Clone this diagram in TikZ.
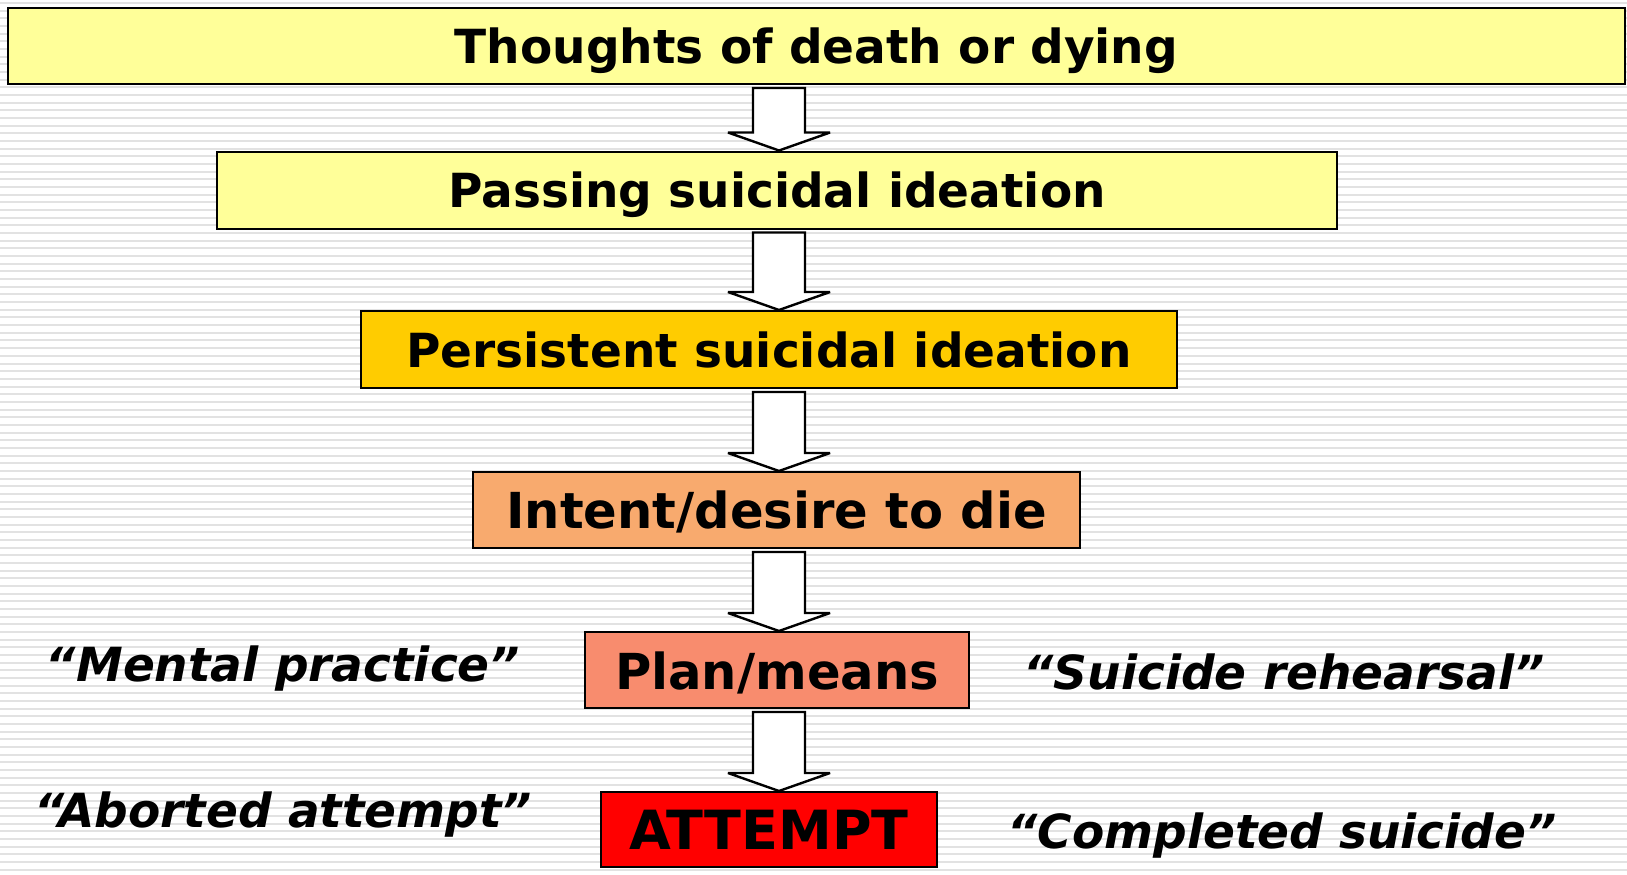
\documentclass[tikz,border=0pt]{standalone}
\usepackage{fontspec}
\setmainfont{DejaVu Sans}
\usetikzlibrary{calc}
\definecolor{paleyellow}{HTML}{FFFF99}
\definecolor{gold}{HTML}{FFCC00}
\definecolor{sandy}{HTML}{F8AA6E}
\definecolor{salmonbox}{HTML}{F88C6E}
\definecolor{redbox}{HTML}{FF0000}
\definecolor{stripe}{HTML}{E2E2E2}
\tikzset{
  stage/.style={draw=black, line width=1pt, inner sep=0pt, font=\bfseries\fontsize{23.5}{28}\selectfont, text height=22.5pt, text depth=5pt},
  boxsize/.style 2 args={minimum width={#1*0.5pt}, minimum height={#2*0.5pt}},
  quote/.style={font=\bfseries\itshape\fontsize{23.5}{28}\selectfont, anchor=base},
  arrowbox/.style={draw=black, fill=white, line width=1.2pt, line join=miter, miter limit=4},
}
\begin{document}
\begin{tikzpicture}[x=0.5pt,y=-0.5pt]
\useasboundingbox (0,0) rectangle (1627,874);
\begin{scope}
\clip (0,0) rectangle (1627,874);
\foreach \i in {0,...,114} {
  \draw[stripe, line width=1pt] (0,{3+\i*7.67}) -- (1627,{3+\i*7.67});
}
\end{scope}
\node[stage, fill=paleyellow, boxsize={1617}{76}] (s1) at (816.5,46) {Thoughts of death or dying};
\node[stage, fill=paleyellow, boxsize={1120}{77}] (s2) at (777,190) {Passing suicidal ideation};
\node[stage, fill=gold, boxsize={816}{77}] (s3) at (769,349.5) {Persistent suicidal ideation};
\node[stage, fill=sandy, boxsize={607}{76}, font=\bfseries\fontsize{24.8}{28}\selectfont, text height=23.6pt] (s4) at (776.5,510) {Intent/desire to die};
\node[stage, fill=salmonbox, boxsize={384}{76}, font=\bfseries\fontsize{24.8}{28}\selectfont, text height=24.5pt] (s5) at (777,670) {Plan/means};
\node[stage, fill=redbox, boxsize={336}{75}, font=\bfseries\fontsize{27}{32}\selectfont, text height=24.7pt] (s6) at (769,829.5) {ATTEMPT};
\coordinate (ax) at (779,0);
\foreach \a/\b in {s1/s2, s2/s3, s3/s4, s4/s5, s5/s6} {
  \draw[arrowbox]
    ($(ax |- \a.south)+(-26,3)$) -- ($(ax |- \b.north)+(-26,-18)$) -- ($(ax |- \b.north)+(-51,-18)$)
    -- (ax |- \b.north) -- ($(ax |- \b.north)+(51,-18)$) -- ($(ax |- \b.north)+(26,-18)$)
    -- ($(ax |- \a.south)+(26,3)$) -- cycle;
}
\node[quote] (q1) at (283,681) {“Mental practice”};
\node[quote] (q2) at (283,827) {“Aborted attempt”};
\node[quote] (q3) at (1284,689) {“Suicide rehearsal”};
\node[quote] (q4) at (1282,848) {“Completed suicide”};
\end{tikzpicture}
\end{document}
